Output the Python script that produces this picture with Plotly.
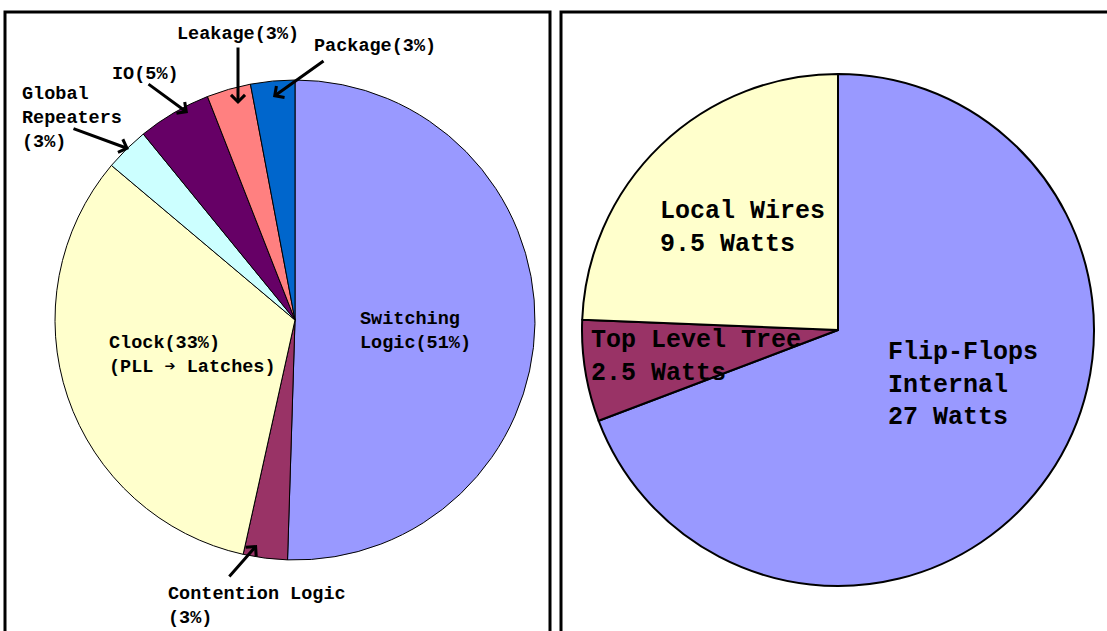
import plotly.graph_objects as go

W, H = 1107, 631

# Left pie: power breakdown (%)
left_labels = ["Switching Logic", "Contention Logic", "Clock", "Global Repeaters", "IO", "Leakage", "Package"]
left_values = [51, 3, 33, 3, 5, 3, 3]
left_colors = ["#9999FF", "#993366", "#FFFFCC", "#CCFFFF", "#660066", "#FF8080", "#0066CC"]

# Right pie: clock power breakdown (Watts)
right_labels = ["Flip-Flops Internal", "Top Level Tree", "Local Wires"]
right_values = [27, 2.5, 9.5]
right_colors = ["#9999FF", "#993366", "#FFFFCC"]

FONT = "Courier New, Liberation Mono, monospace"


def px_x(x):
    return x / W


def px_y(y):
    return 1 - y / H


fig = go.Figure()

# left pie: center (295,320), r ~240
cx, cy, r = 295, 320, 240
fig.add_trace(go.Pie(
    labels=left_labels, values=left_values, sort=False, direction="clockwise", rotation=0,
    marker=dict(colors=left_colors, line=dict(color="black", width=1)),
    textinfo="none", hoverinfo="label+value", showlegend=False,
    domain=dict(x=[px_x(cx - r), px_x(cx + r)], y=[px_y(cy + r), px_y(cy - r)]),
))

# right pie: center (838,330), r ~256
cx2, cy2, r2 = 838, 330, 256
fig.add_trace(go.Pie(
    labels=right_labels, values=right_values, sort=False, direction="clockwise", rotation=0,
    marker=dict(colors=right_colors, line=dict(color="black", width=2)),
    textinfo="none", hoverinfo="label+value", showlegend=False,
    domain=dict(x=[px_x(cx2 - r2), px_x(cx2 + r2)], y=[px_y(cy2 + r2), px_y(cy2 - r2)]),
))

LF = dict(family=FONT, size=18.5, color="black", weight="bold")
RF = dict(family=FONT, size=25, color="black", weight="bold")

texts = [
    # (text, left x px, center y px, font)
    ("Leakage(3%)", 175, 35, LF),
    ("Package(3%)", 312, 47, LF),
    ("IO(5%)", 110, 74, LF),
    ("Global<br>Repeaters<br>(3%)", 20, 119, LF),
    ("Switching<br>Logic(51%)", 358, 331, LF),
    ("Clock(33%)<br>(PLL ➔ Latches)", 107, 356, LF),
    ("Contention Logic<br>(3%)", 166, 606, LF),
    ("Local Wires<br>9.5 Watts", 658, 228, RF),
    ("Top Level Tree<br>2.5 Watts", 589, 357, RF),
    ("Flip-Flops<br>Internal<br>27 Watts", 886, 385, RF),
]
for t, x, y, f in texts:
    fig.add_annotation(text=t, x=px_x(x), y=px_y(y), xref="paper", yref="paper",
                       xanchor="left", yanchor="middle", align="left",
                       showarrow=False, font=f)

arrows = [
    # (tail x, tail y, head x, head y)
    (238, 46, 238, 104),
    (325, 60, 273, 97),
    (147, 83, 188, 113),
    (72, 128, 129, 149),
    (228, 578, 257, 545),
]
for tx, ty, hx, hy in arrows:
    fig.add_annotation(text="", x=px_x(hx), y=px_y(hy), xref="paper", yref="paper",
                       ax=tx - hx, ay=ty - hy, showarrow=True,
                       arrowhead=4, arrowsize=0.9, arrowwidth=3, arrowcolor="black")

# panel borders
fig.add_shape(type="rect", xref="paper", yref="paper",
              x0=px_x(5), x1=px_x(550), y0=px_y(12), y1=px_y(660),
              line=dict(color="black", width=3))
fig.add_shape(type="rect", xref="paper", yref="paper",
              x0=px_x(561), x1=px_x(1130), y0=px_y(12), y1=px_y(660),
              line=dict(color="black", width=3))

fig.update_layout(width=W, height=H, margin=dict(l=0, r=0, t=0, b=0),
                  paper_bgcolor="white", plot_bgcolor="white")

fig.write_html("out.html")
